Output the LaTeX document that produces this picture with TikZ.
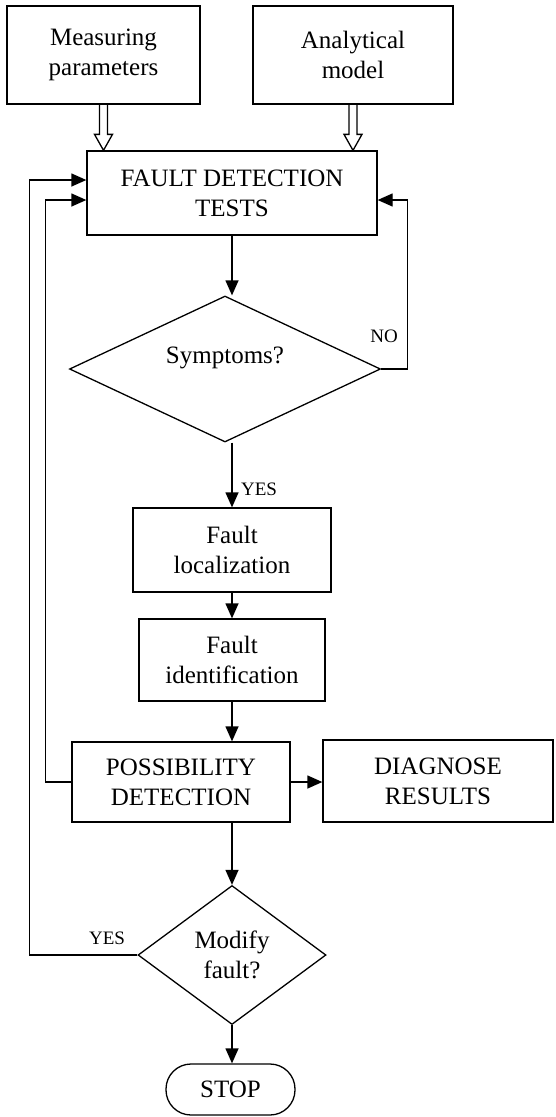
\documentclass[tikz,border=0pt]{standalone}
\usepackage{fontspec}
\setmainfont{Liberation Serif}
\usetikzlibrary{shapes.geometric, arrows.meta, calc}
\tikzset{
box/.style={ % Plain process box
draw, rectangle, align=center, inner sep=2pt,
font=\fontsize{25}{30}\selectfont},
decision/.style={ % Question diamond
draw, diamond, align=center, inner sep=0pt,
font=\fontsize{25}{30}\selectfont},
terminal/.style={ % Rounded end box
draw, rectangle, rounded corners=25pt,
font=\fontsize{25}{30}\selectfont},
answer/.style={inner sep=0pt, font=\fontsize{19}{22}\selectfont},
hollow/.style={ % Open double-line arrow for the inputs
line join=miter, to path={
let \p1=(\tikztostart), \p2=(\tikztotarget) in
(\x1-4pt,\y1) -- (\x1-4pt,\y2+16pt) -- (\x1-9pt,\y2+16pt) -- (\x2,\y2)
-- (\x1+9pt,\y2+16pt) -- (\x1+4pt,\y2+16pt) -- (\x1+4pt,\y1)}},
>={Triangle[length=15pt,width=13pt]}}

\begin{document}
\begin{tikzpicture}[x=1pt, y=-1pt, line width=1.3pt]
    \useasboundingbox (0,0) rectangle (555,1117);
    
    \node[box, minimum width=193pt, minimum height=98pt] (meas) at (103.5,55) {Measuring\\parameters};
    \node[box, minimum width=200pt, minimum height=98pt] (model) at (353,55) {Analytical\\model};
    \node[box, minimum width=290pt, minimum height=84pt] (fdt) at (232,193) {FAULT DETECTION\\TESTS};
    \node[decision, minimum width=311pt, minimum height=146pt] (symp) at (225,369) {\raisebox{6pt}[0pt][0pt]{Symptoms?}};
    \node[box, minimum width=198pt, minimum height=84pt] (loc) at (232,550) {Fault\\localization};
    \node[box, minimum width=186pt, minimum height=82pt] (ident) at (232,660) {Fault\\identification};
    \node[box, minimum width=218pt, minimum height=80pt] (poss) at (181,782) {POSSIBILITY\\DETECTION};
    \node[box, minimum width=230pt, minimum height=82pt] (diag) at (438,781) {DIAGNOSE\\RESULTS};
    \node[decision, minimum width=188pt, minimum height=139pt] (modify) at (232,955) {Modify\\fault?};
    \node[terminal, minimum width=129pt, minimum height=51pt] (stop) at (230.5,1089.5) {STOP};
    
    \node[answer] (no) at (384,336) {NO};
    \node[answer] (yes1) at (259,489) {YES};
    \node[answer] (yes2) at (107,938) {YES};
    
    \draw[hollow] (meas.south) to (meas.south |- fdt.north);
    \draw[hollow] (model.south) to (model.south |- fdt.north);
    
    \draw[->] (fdt.south) -- (fdt.south |- symp.north);
    \draw[->] (symp.south -| loc.north) -- (loc.north);
    \draw[->] (loc.south) -- (ident.north);
    \draw[->] (ident.south) -- (ident.south |- poss.north);
    \draw[->] (poss.east) -- (poss.east -| diag.west);
    \draw[->] (poss.south -| modify.north) -- (modify.north);
    \draw[->] (modify.south) -- (modify.south |- stop.north);
    
    \draw[->] (symp.east) -- ++(26,0) |- ($(fdt.east)+(0,7)$);
    \draw[->] (poss.west) -- ++(-26,0) |- ($(fdt.west)+(0,7)$);
    \draw[->] (modify.west) -- ++(-108,0) |- ($(fdt.west)+(0,-13)$);
    
\end{tikzpicture}
\end{document}
